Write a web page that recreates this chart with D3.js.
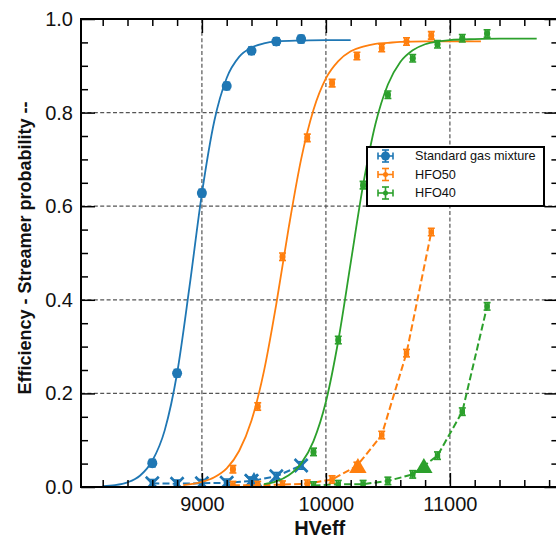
<!DOCTYPE html>
<html>
<head>
<meta charset="utf-8">
<script src="https://cdn.jsdelivr.net/npm/d3@7"></script>
<style>
  html, body { margin: 0; padding: 0; background: #fff; }
  svg { display: block; font-family: "Liberation Sans", Arial, Helvetica, sans-serif; }
</style>
</head>
<body>
<svg id="chart" width="556" height="542"></svg>
<script>
// ---- measured points: efficiency and streamer probability vs HVeff ----
const seriesNames = ["Standard gas mixture", "HFO50", "HFO40"];
const seriesColors = ["#1f77b4", "#ff7f0e", "#2ca02c"];

const hvStd = [8600, 8800, 9000, 9200, 9400, 9600, 9800];
const effStd = [0.051, 0.243, 0.628, 0.857, 0.932, 0.952, 0.957];
const strStd = [0.008, 0.007, 0.008, 0.009, 0.013, 0.023, 0.046];

const hvHFO50 = [9250, 9450, 9650, 9850, 10050, 10250, 10450, 10650, 10850];
const effHFO50 = [0.038, 0.172, 0.492, 0.746, 0.863, 0.921, 0.938, 0.952, 0.965];
const strHFO50 = [0.004, 0.004, 0.005, 0.007, 0.016, 0.045, 0.111, 0.286, 0.545];

const hvHFO40 = [9900, 10100, 10300, 10500, 10700, 10900, 11100, 11300];
const effHFO40 = [0.075, 0.314, 0.645, 0.838, 0.916, 0.946, 0.959, 0.969];
const strHFO40 = [0.003, 0.006, 0.006, 0.013, 0.027, 0.067, 0.161, 0.386];

// statistical uncertainties on each point
const effErr = 0.008;
const hvErr = 15;

// sigmoid fit curves, sampled along HVeff
const fitStdHV = [8200, 8300, 8400, 8500, 8600, 8700, 8800, 8900, 9000, 9100, 9200, 9300, 9400, 9500, 9600, 9800, 10000, 10200];
const fitStdEff = [0.002, 0.004, 0.010, 0.024, 0.056, 0.121, 0.243, 0.428, 0.627, 0.782, 0.874, 0.919, 0.939, 0.948, 0.952, 0.954, 0.955, 0.955];

const fitHFO50HV = [8850, 9000, 9100, 9200, 9300, 9400, 9500, 9600, 9700, 9800, 9900, 10000, 10100, 10200, 10300, 10400, 10500, 10600, 10800, 11000, 11250];
const fitHFO50Eff = [0.004, 0.011, 0.021, 0.040, 0.077, 0.142, 0.247, 0.391, 0.554, 0.700, 0.806, 0.873, 0.910, 0.931, 0.941, 0.947, 0.949, 0.951, 0.952, 0.952, 0.952];

const fitHFO40HV = [9500, 9600, 9700, 9800, 9900, 10000, 10100, 10200, 10300, 10400, 10500, 10600, 10700, 10800, 10900, 11000, 11200, 11400, 11700];
const fitHFO40Eff = [0.006, 0.012, 0.025, 0.050, 0.098, 0.182, 0.313, 0.479, 0.645, 0.776, 0.860, 0.908, 0.933, 0.946, 0.952, 0.955, 0.957, 0.958, 0.958];

// working points (triangles): HVeff and streamer probability there
const wpHV = [9420, 10258, 10790];
const wpStr = [0.016, 0.046, 0.046];

// axis ticks
const xMajorTicks = [9000, 10000, 11000];
const xMinorTicks = [8200, 8400, 8600, 8800, 9200, 9400, 9600, 9800, 10200, 10400, 10600, 10800, 11200, 11400, 11600, 11800];
const yMajorTicks = [0, 0.2, 0.4, 0.6, 0.8, 1.0];
const yMinorTicks = [0.05, 0.1, 0.15, 0.25, 0.3, 0.35, 0.45, 0.5, 0.55, 0.65, 0.7, 0.75, 0.85, 0.9, 0.95];
const yGridTicks = [0.2, 0.4, 0.6, 0.8];

// ---- layout ----
const svg = d3.select("#chart");
const padL = 81, padT = 19, padR = 558.4, padB = 487;

const x = d3.scaleLinear().domain([8025, 11875]).range([padL, padR]);
const y = d3.scaleLinear().domain([0, 1]).range([padB, padT]);

svg.append("defs").append("clipPath").attr("id", "plotclip")
  .append("rect").attr("x", padL).attr("y", padT).attr("width", padR - padL).attr("height", padB - padT);

// grid
const grid = svg.append("g").attr("stroke", "#555").attr("stroke-width", 1.2).attr("stroke-dasharray", "4,2.4");
grid.selectAll("line.gx").data(xMajorTicks).join("line").attr("class", "gx")
  .attr("x1", d => x(d)).attr("x2", d => x(d)).attr("y1", padT).attr("y2", padB);
grid.selectAll("line.gy").data(yGridTicks).join("line").attr("class", "gy")
  .attr("x1", padL).attr("x2", padR).attr("y1", d => y(d)).attr("y2", d => y(d));

const plot = svg.append("g").attr("clip-path", "url(#plotclip)");

const series = [
  { hv: hvStd, eff: effStd, str: strStd, fitHV: fitStdHV, fitEff: fitStdEff },
  { hv: hvHFO50, eff: effHFO50, str: strHFO50, fitHV: fitHFO50HV, fitEff: fitHFO50Eff },
  { hv: hvHFO40, eff: effHFO40, str: strHFO40, fitHV: fitHFO40HV, fitEff: fitHFO40Eff }
];

const line = d3.line().x(d => x(d[0])).y(d => y(d[1]));
const smooth = d3.line().x(d => x(d[0])).y(d => y(d[1])).curve(d3.curveMonotoneX);

function errorBars(g, pts, color, r, shape) {
  const pg = g.append("g");
  pts.forEach(([hv, v]) => {
    const cx = x(hv), cy = y(v);
    const x0 = x(hv - hvErr), x1 = x(hv + hvErr);
    const y0 = y(v - effErr), y1 = y(v + effErr);
    const e = pg.append("g").attr("stroke", color).attr("stroke-width", 1.6);
    e.append("line").attr("x1", cx).attr("x2", cx).attr("y1", y0).attr("y2", y1);
    e.append("line").attr("x1", cx - 3.5).attr("x2", cx + 3.5).attr("y1", y0).attr("y2", y0);
    e.append("line").attr("x1", cx - 3.5).attr("x2", cx + 3.5).attr("y1", y1).attr("y2", y1);
    e.append("line").attr("x1", x0).attr("x2", x1).attr("y1", cy).attr("y2", cy);
    e.append("line").attr("x1", x0).attr("x2", x0).attr("y1", cy - 3.5).attr("y2", cy + 3.5);
    e.append("line").attr("x1", x1).attr("x2", x1).attr("y1", cy - 3.5).attr("y2", cy + 3.5);
    if (shape === "x") {
      const s = 6.5;
      pg.append("path").attr("d", `M${cx - s},${cy - s}L${cx + s},${cy + s}M${cx - s},${cy + s}L${cx + s},${cy - s}`)
        .attr("stroke", color).attr("stroke-width", 2.6).attr("fill", "none");
    } else {
      pg.append("circle").attr("cx", cx).attr("cy", cy).attr("r", r).attr("fill", color);
    }
  });
}

series.forEach((s, i) => {
  const c = seriesColors[i];
  // efficiency fit
  plot.append("path").attr("d", smooth(d3.zip(s.fitHV, s.fitEff)))
    .attr("fill", "none").attr("stroke", c).attr("stroke-width", 1.8);
  // efficiency points
  errorBars(plot, d3.zip(s.hv, s.eff), c, i === 0 ? 5 : 3, "o");
  // streamer probability, dashed
  plot.append("path").attr("d", line(d3.zip(s.hv, s.str)))
    .attr("fill", "none").attr("stroke", c).attr("stroke-width", 2).attr("stroke-dasharray", "7,3.2");
  errorBars(plot, d3.zip(s.hv, s.str), c, i === 0 ? 0 : 2.6, i === 0 ? "x" : "o");
  // working point, drawn over the streamer curve
  const tx = x(wpHV[i]), ty = y(wpStr[i]);
  plot.append("path").attr("d", `M${tx},${ty - 7.5}L${tx + 8.7},${ty + 7.5}L${tx - 8.7},${ty + 7.5}Z`).attr("fill", c);
  if (i === 0) {
    // keep the cross marker at 9400 visible above the triangle
    errorBars(plot, [[hvStd[4], strStd[4]]], c, 0, "x");
  }
});

// ---- axes (ticks inward on all four sides) ----
const fmt = d3.format(".1f");

svg.append("g").attr("transform", `translate(0,${padB})`)
  .call(d3.axisBottom(x).tickValues(xMajorTicks).tickSizeInner(-14).tickSizeOuter(0).tickPadding(10).tickFormat(d3.format("d")));
svg.append("g").attr("transform", `translate(0,${padB})`)
  .call(d3.axisBottom(x).tickValues(xMinorTicks).tickSizeInner(-7).tickSizeOuter(0).tickFormat(""));
svg.append("g").attr("transform", `translate(0,${padT})`)
  .call(d3.axisTop(x).tickValues(xMajorTicks).tickSizeInner(-14).tickSizeOuter(0).tickFormat(""));
svg.append("g").attr("transform", `translate(0,${padT})`)
  .call(d3.axisTop(x).tickValues(xMinorTicks).tickSizeInner(-7).tickSizeOuter(0).tickFormat(""));

svg.append("g").attr("transform", `translate(${padL},0)`)
  .call(d3.axisLeft(y).tickValues(yMajorTicks).tickSizeInner(-14).tickSizeOuter(0).tickPadding(8).tickFormat(fmt));
svg.append("g").attr("transform", `translate(${padL},0)`)
  .call(d3.axisLeft(y).tickValues(yMinorTicks).tickSizeInner(-7).tickSizeOuter(0).tickFormat(""));
svg.append("g").attr("transform", `translate(${padR},0)`)
  .call(d3.axisRight(y).tickValues(yMajorTicks).tickSizeInner(-14).tickSizeOuter(0).tickFormat(""));
svg.append("g").attr("transform", `translate(${padR},0)`)
  .call(d3.axisRight(y).tickValues(yMinorTicks).tickSizeInner(-7).tickSizeOuter(0).tickFormat(""));

svg.selectAll(".domain").remove();
svg.selectAll(".tick line").attr("stroke", "#000").attr("stroke-width", 1.5);
svg.selectAll(".tick text").attr("font-size", 20).attr("fill", "#111")
  .attr("font-family", "'Liberation Sans', Arial, sans-serif");

// frame
svg.append("rect").attr("x", padL).attr("y", padT).attr("width", padR - padL).attr("height", padB - padT)
  .attr("fill", "none").attr("stroke", "#000").attr("stroke-width", 2);

// axis titles
svg.append("text").attr("x", (padL + padR) / 2).attr("y", 535).attr("text-anchor", "middle")
  .attr("font-size", 20).attr("font-weight", "bold").attr("fill", "#111").text("HVeff");
svg.append("text").attr("transform", "translate(31,248) rotate(-90)").attr("text-anchor", "middle")
  .attr("font-size", 18).attr("font-weight", "bold").attr("fill", "#111")
  .text("Efficiency - Streamer probability --");

// ---- legend ----
const lg = svg.append("g");
lg.append("rect").attr("x", 367).attr("y", 147).attr("width", 177).attr("height", 59)
  .attr("fill", "#fff").attr("stroke", "#000").attr("stroke-width", 2);
const rowsY = [156, 174.5, 193];
seriesNames.forEach((name, i) => {
  const cx = 385.5, cy = rowsY[i], c = seriesColors[i];
  const g = lg.append("g").attr("stroke", c).attr("stroke-width", 1.6);
  g.append("line").attr("x1", cx - 7.5).attr("x2", cx + 7.5).attr("y1", cy).attr("y2", cy);
  g.append("line").attr("x1", cx).attr("x2", cx).attr("y1", cy - 6).attr("y2", cy + 6);
  g.append("line").attr("x1", cx - 7.5).attr("x2", cx - 7.5).attr("y1", cy - 3.5).attr("y2", cy + 3.5);
  g.append("line").attr("x1", cx + 7.5).attr("x2", cx + 7.5).attr("y1", cy - 3.5).attr("y2", cy + 3.5);
  g.append("line").attr("x1", cx - 3.5).attr("x2", cx + 3.5).attr("y1", cy - 6).attr("y2", cy - 6);
  g.append("line").attr("x1", cx - 3.5).attr("x2", cx + 3.5).attr("y1", cy + 6).attr("y2", cy + 6);
  lg.append("circle").attr("cx", cx).attr("cy", cy).attr("r", i === 0 ? 4.5 : 2.5).attr("fill", c);
  lg.append("text").attr("x", 415).attr("y", cy).attr("dy", "0.35em")
    .attr("font-size", 12.7).attr("fill", "#111").text(name);
});
</script>
</body>
</html>
